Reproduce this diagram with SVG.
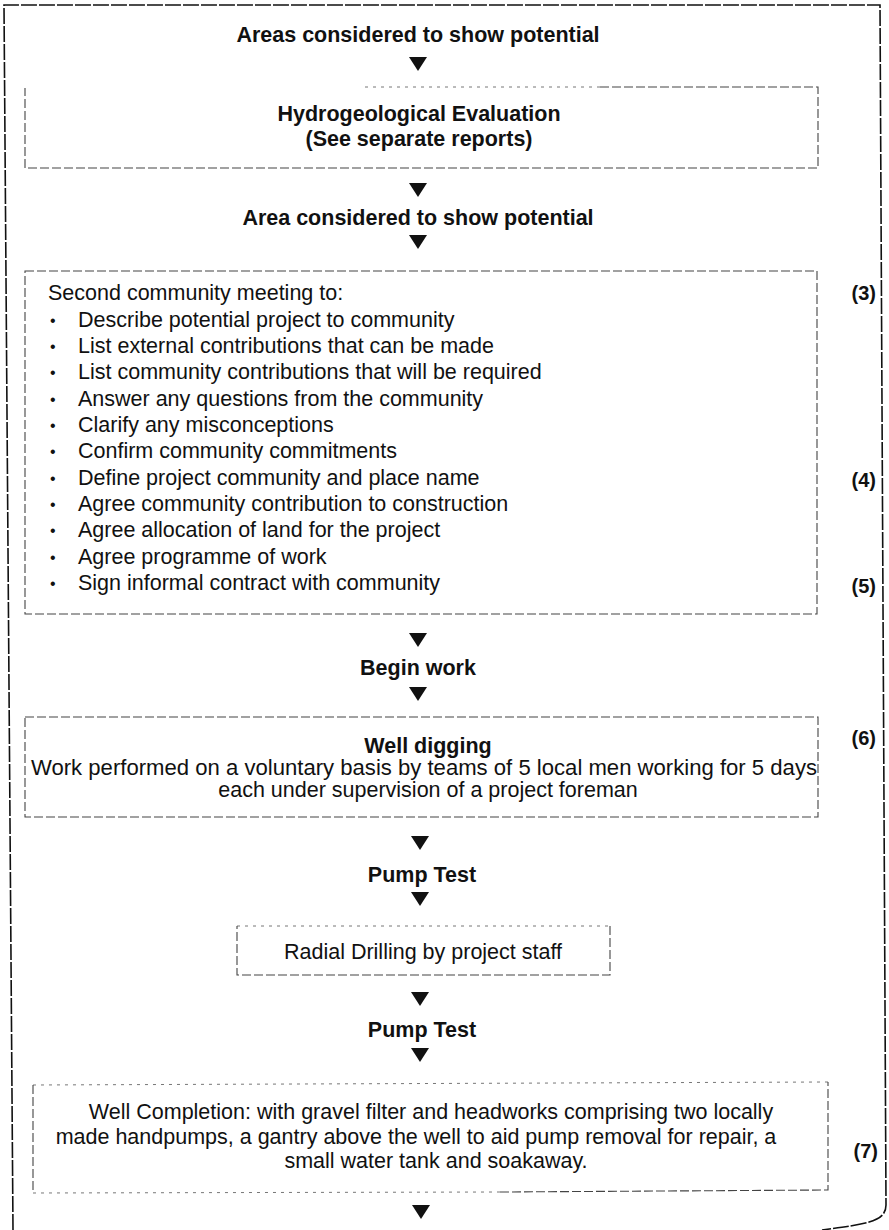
<svg xmlns="http://www.w3.org/2000/svg" width="889" height="1230" viewBox="0 0 889 1230">
<defs>
<style>
.b{font-family:"Liberation Sans",Arial,sans-serif;font-weight:bold;font-size:21.5px;fill:#111;text-anchor:middle}
.r{font-family:"Liberation Sans",Arial,sans-serif;font-size:21.5px;fill:#111}
.c{text-anchor:middle}
.n{font-family:"Liberation Sans",Arial,sans-serif;font-weight:bold;font-size:20px;fill:#111;text-anchor:end}
.bul{font-family:"Liberation Sans",Arial,sans-serif;font-size:16px;fill:#111}
.box{fill:none;stroke:#444;stroke-width:1.1;stroke-dasharray:9 3}
.faint{fill:none;stroke:#777;stroke-width:1;stroke-dasharray:3 5}
.frame{fill:none;stroke:#111;stroke-width:1.6;stroke-dasharray:16 2}
</style>
<path id="tri" d="M-9,0 L9,0 L0,14 Z" fill="#111"/>
</defs>
<rect width="889" height="1230" fill="#fff"/>
<path class="frame" d="M13,1230 L4,5 L880,5 L886,1205 C886,1222 866,1224 822,1230"/>

<g id="connectors">
<use href="#tri" x="418" y="57"/>
<use href="#tri" x="418" y="183"/>
<use href="#tri" x="418" y="235"/>
<use href="#tri" x="418" y="633"/>
<use href="#tri" x="418" y="687"/>
<use href="#tri" x="420" y="836"/>
<use href="#tri" x="420" y="892"/>
<use href="#tri" x="420" y="992"/>
<use href="#tri" x="420" y="1048"/>
<use href="#tri" x="421" y="1205"/>
</g>

<g id="n-areas"><text class="b" x="418" y="42">Areas considered to show potential</text></g>

<g id="n-hydro">
<path class="faint" d="M365,87 L600,87"/>
<path class="box" d="M600,87 L818,87 L818,168 L25,168 L25,88"/>
<text class="b" x="419" y="121">Hydrogeological Evaluation</text>
<text class="b" x="419" y="146">(See separate reports)</text>
</g>

<g id="n-area"><text class="b" x="418" y="225">Area considered to show potential</text></g>

<g id="n-meeting">
<rect class="box" x="25" y="271" width="792" height="343"/>
<text class="r" x="48" y="300">Second community meeting to:</text>
<text class="bul" x="50" y="326">•</text><text class="r" x="78" y="327">Describe potential project to community</text>
<text class="bul" x="50" y="352">•</text><text class="r" x="78" y="353">List external contributions that can be made</text>
<text class="bul" x="50" y="378">•</text><text class="r" x="78" y="379">List community contributions that will be required</text>
<text class="bul" x="50" y="405">•</text><text class="r" x="78" y="406">Answer any questions from the community</text>
<text class="bul" x="50" y="431">•</text><text class="r" x="78" y="432">Clarify any misconceptions</text>
<text class="bul" x="50" y="457">•</text><text class="r" x="78" y="458">Confirm community commitments</text>
<text class="bul" x="50" y="484">•</text><text class="r" x="78" y="485">Define project community and place name</text>
<text class="bul" x="50" y="510">•</text><text class="r" x="78" y="511">Agree community contribution to construction</text>
<text class="bul" x="50" y="536">•</text><text class="r" x="78" y="537">Agree allocation of land for the project</text>
<text class="bul" x="50" y="563">•</text><text class="r" x="78" y="564">Agree programme of work</text>
<text class="bul" x="50" y="589">•</text><text class="r" x="78" y="590">Sign informal contract with community</text>
<text class="n" x="876" y="300">(3)</text>
<text class="n" x="876" y="487">(4)</text>
<text class="n" x="876" y="593">(5)</text>
</g>

<g id="n-begin"><text class="b" x="418" y="675">Begin work</text></g>

<g id="n-digging">
<rect class="box" x="25" y="717" width="793" height="100"/>
<text class="b" x="428" y="753">Well digging</text>
<text class="r c" x="424" y="775" textLength="786" lengthAdjust="spacingAndGlyphs">Work performed on a voluntary basis by teams of 5 local men working for 5 days</text>
<text class="r c" x="428" y="797">each under supervision of a project foreman</text>
<text class="n" x="876" y="745">(6)</text>
</g>

<g id="n-pump1"><text class="b" x="422" y="882">Pump Test</text></g>

<g id="n-radial">
<path class="faint" d="M237,926 L610,926"/>
<path class="box" d="M610,926 L610,975 L237,975 L237,926"/>
<text class="r c" x="423" y="959">Radial Drilling by project staff</text>
</g>

<g id="n-pump2"><text class="b" x="422" y="1037">Pump Test</text></g>

<g id="n-completion">
<path class="faint" d="M33,1085 L828,1082"/>
<path class="faint" d="M33,1193 L500,1192"/>
<path class="box" d="M500,1192 L828,1190 L828,1082 M33,1085 L33,1193"/>
<text class="r c" x="431" y="1119">Well Completion: with gravel filter and headworks comprising two locally</text>
<text class="r c" x="416" y="1144">made handpumps, a gantry above the well to aid pump removal for repair, a</text>
<text class="r c" x="436" y="1168">small water tank and soakaway.</text>
<text class="n" x="878" y="1158">(7)</text>
</g>
</svg>
